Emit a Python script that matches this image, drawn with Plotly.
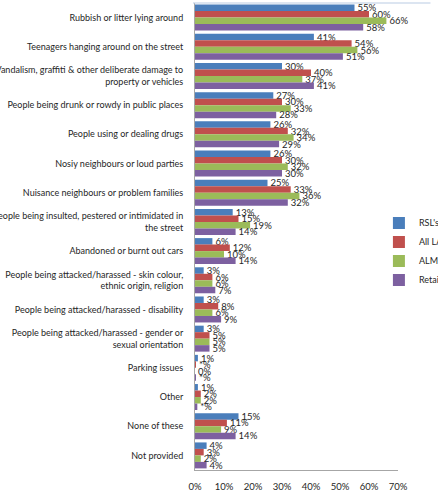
import plotly.graph_objects as go

categories = [
    "Rubbish or litter lying around",
    "Teenagers hanging around on the street",
    "Vandalism, graffiti & other deliberate damage to<br>property or vehicles",
    "People being drunk or rowdy in public places",
    "People using or dealing drugs",
    "Nosiy neighbours or loud parties",
    "Nuisance neighbours or problem families",
    "People being insulted, pestered or intimidated in<br>the street",
    "Abandoned or burnt out cars",
    "People being attacked/harassed - skin colour,<br>ethnic origin, religion",
    "People being attacked/harassed - disability",
    "People being attacked/harassed - gender or<br>sexual orientation",
    "Parking issues",
    "Other",
    "None of these",
    "Not provided",
]

series_names = ["RSL's", "All LAs", "ALMOs", "Retained"]
rsl = [55, 41, 30, 27, 26, 26, 25, 13, 6, 3, 3, 3, 1, 1, 15, 4]
all_las = [60, 54, 40, 30, 32, 30, 33, 15, 12, 6, 8, 5, 0.1, 2, 11, 3]
almos = [66, 56, 37, 33, 34, 32, 36, 19, 10, 6, 6, 5, 0, 2, 9, 2]
retained = [58, 51, 41, 28, 29, 30, 32, 14, 14, 7, 9, 5, 0.1, 0.8, 14, 4]
# cells reported as "*" (less than 0.5%)
starred = {("All LAs", "Parking issues"), ("Retained", "Parking issues"), ("Retained", "Other")}

colors = ["#4A7EBB", "#C0504D", "#9BBB59", "#7D60A0"]
x_ticks = [0, 10, 20, 30, 40, 50, 60, 70]

FONT = "Lato"

fig = go.Figure()
for name, vals, col in zip(series_names, [rsl, all_las, almos, retained], colors):
    labels = []
    for cat, v in zip(categories, vals):
        if (name, cat) in starred:
            labels.append("*%")
        else:
            labels.append(f"{v:.0f}%")
    fig.add_trace(go.Bar(
        name=name, y=categories, x=vals, orientation="h",
        marker=dict(color=col, line=dict(width=0)),
        text=labels, textposition="outside", constraintext="none",
        cliponaxis=False,
        textfont=dict(family=FONT, size=9.5, color="#262626"),
    ))

fig.update_layout(
    width=438, height=496,
    margin=dict(l=195, r=40, t=3, b=26, autoexpand=False),
    barmode="group", bargap=0.11, bargroupgap=0,
    plot_bgcolor="white", paper_bgcolor="white",
    font=dict(family=FONT, size=9, color="#262626"),
    showlegend=True,
    legend=dict(x=0.906, xanchor="left", y=0.468, yanchor="middle",
                font=dict(family=FONT, size=9, color="#262626"),
                bgcolor="rgba(0,0,0,0)", itemwidth=30),
)
fig.update_xaxes(
    range=[0, 70], tickvals=x_ticks, ticktext=[f"{t}%" for t in x_ticks],
    showgrid=False, zeroline=False, showline=True, linecolor="#A6A6A6", linewidth=1,
    ticks="", ticklabelstandoff=8, tickfont=dict(size=9.5),
)
fig.update_yaxes(
    autorange="reversed", showgrid=False, showline=True, linecolor="#A6A6A6",
    linewidth=1, ticks="", ticklabelstandoff=9, automargin=False,
)
fig.add_shape(type="line", xref="paper", yref="paper", x0=-0.01, x1=1.16, y0=1.0, y1=1.0,
              line=dict(color="#B9CBE3", width=1))

fig.write_html("out.html",
               config={"displayModeBar": False},
               post_script="document.body.style.margin='0';document.body.style.overflow='hidden';")
